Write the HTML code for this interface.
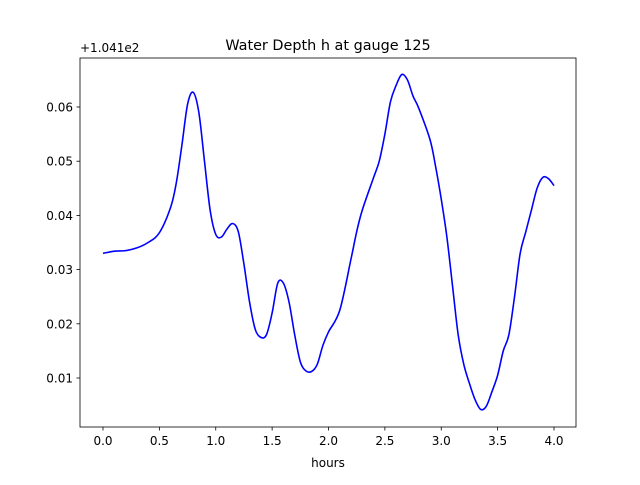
<!DOCTYPE html>
<html><head><meta charset="utf-8"><style>
body{margin:0;background:#fff;font-family:"Liberation Sans","DejaVu Sans",sans-serif}
svg text{font-family:"DejaVu Sans","Liberation Sans",sans-serif}
</style></head><body>
<svg id="chart" width="640" height="480" viewBox="0 0 640 480" xmlns="http://www.w3.org/2000/svg">
<rect width="640" height="480" fill="#fff"/>
<text x="328" y="50" font-size="14.4" text-anchor="middle">Water Depth h at gauge 125</text>
<text x="80" y="52" font-size="12">+1.041e2</text>
<text x="328" y="467" font-size="12" text-anchor="middle">hours</text>
<g id="ticks"></g>
<path id="line" fill="none" stroke="#0000ff" stroke-width="1.6"/>
<rect x="80" y="58" width="496" height="369" fill="none" stroke="#000" stroke-width="0.8"/>
</svg>
<script>
const hours=[0,0.1,0.2,0.3,0.4,0.5,0.6,0.65,0.7,0.75,0.8,0.85,0.9,0.95,1.0,1.05,1.1,1.15,1.2,1.25,1.3,1.35,1.4,1.45,1.5,1.55,1.6,1.65,1.7,1.75,1.8,1.85,1.9,1.95,2.0,2.1,2.2,2.25,2.3,2.4,2.45,2.5,2.55,2.6,2.65,2.7,2.75,2.8,2.9,2.95,3.0,3.05,3.1,3.15,3.2,3.25,3.3,3.35,3.4,3.45,3.5,3.55,3.6,3.65,3.7,3.75,3.8,3.85,3.9,3.95,4.0];
const depth=[0.033,0.0334,0.0335,0.034,0.035,0.0368,0.0415,0.046,0.053,0.0605,0.0627,0.059,0.05,0.041,0.0365,0.036,0.0375,0.0385,0.037,0.031,0.024,0.019,0.0175,0.018,0.022,0.0275,0.0275,0.024,0.018,0.013,0.0113,0.0112,0.0125,0.016,0.0185,0.0225,0.032,0.037,0.041,0.047,0.05,0.055,0.061,0.064,0.066,0.065,0.062,0.0598,0.054,0.049,0.043,0.036,0.027,0.018,0.0125,0.009,0.006,0.0042,0.0048,0.0075,0.0105,0.015,0.018,0.025,0.033,0.037,0.041,0.045,0.047,0.0468,0.0455];
const xTicks=[0,0.5,1.0,1.5,2.0,2.5,3.0,3.5,4.0];
const xTickLabels=["0.0","0.5","1.0","1.5","2.0","2.5","3.0","3.5","4.0"];
const yTicks=[0.01,0.02,0.03,0.04,0.05,0.06];
const yTickLabels=["0.01","0.02","0.03","0.04","0.05","0.06"];
const X=v=>103+v*112.75;
const Y=v=>378-(v-0.01)*5420;
const NS="http://www.w3.org/2000/svg";
const g=document.getElementById('ticks');
function mk(t,a){const e=document.createElementNS(NS,t);for(const k in a)e.setAttribute(k,a[k]);return e;}
xTicks.forEach((t,i)=>{
 const l=mk('line',{x1:X(t),x2:X(t),y1:427,y2:430.5,stroke:'#000','stroke-width':0.8});
 
 
 g.appendChild(l);
 const tx=mk('text',{x:X(t),y:445,'font-size':12,'text-anchor':'middle'});
 
 
 tx.textContent=xTickLabels[i];g.appendChild(tx);
});
yTicks.forEach((t,i)=>{
 const l=mk('line',{x1:76.5,x2:80,y1:Y(t),y2:Y(t),stroke:'#000','stroke-width':0.8});
 
 
 g.appendChild(l);
 const tx=mk('text',{x:73,y:Y(t)+4.5,'font-size':12,'text-anchor':'end'});
 
 
 tx.textContent=yTickLabels[i];g.appendChild(tx);
});
// Catmull-Rom smoothing through data points
const pts=hours.map((h,i)=>[X(h),Y(depth[i])]);
let d='M'+pts[0][0]+','+pts[0][1];
for(let i=0;i<pts.length-1;i++){
 const p0=pts[Math.max(0,i-1)],p1=pts[i],p2=pts[i+1],p3=pts[Math.min(pts.length-1,i+2)];
 const c1=[p1[0]+(p2[0]-p0[0])/6,p1[1]+(p2[1]-p0[1])/6];
 const c2=[p2[0]-(p3[0]-p1[0])/6,p2[1]-(p3[1]-p1[1])/6];
 d+=' C'+c1+' '+c2+' '+p2;
}
document.getElementById('line').setAttribute('d',d);
</script>
</body></html>
